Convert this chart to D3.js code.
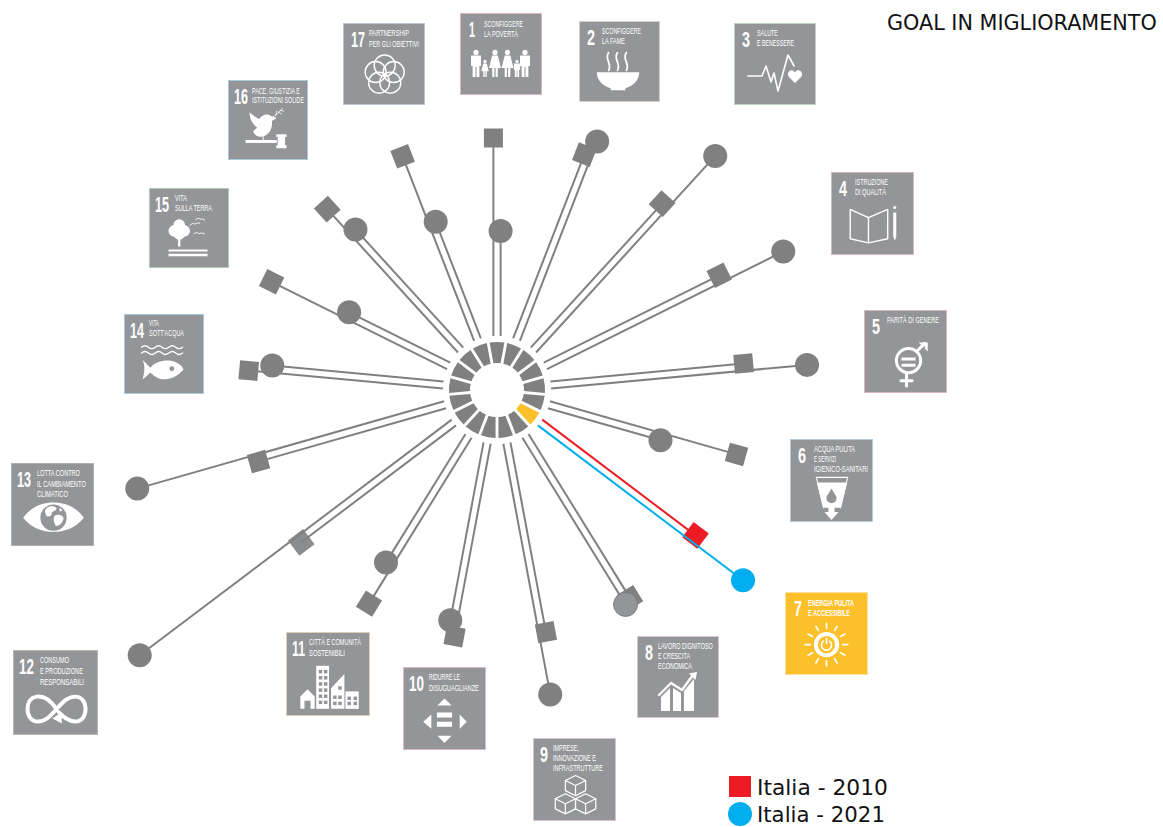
<!DOCTYPE html>
<html><head><meta charset="utf-8">
<script src="https://cdn.jsdelivr.net/npm/d3@7"></script>
<style>html,body{margin:0;background:#fff}svg{display:block}</style></head>
<body><svg id="c" width="1163" height="827"></svg>
<script>
// ---------- data ----------
const goals = [1,2,3,4,5,6,7,8,9,10,11,12,13,14,15,16,17];
const values2010 = [100.8,100.4,99.6,100,99.2,99.2,98.4,98.8,98.8,100,99.6,99.2,99.6,99.6,100,99.2,100.8];
const values2021 = [63.6,107.2,128,127.2,124.4,68.4,124.4,100,123.6,94,82,178,149.2,90.4,66.8,85.6,71.6];
const highlighted = [7];
const goalLabels = [
 ["SCONFIGGERE","LA POVERTÀ"],["SCONFIGGERE","LA FAME"],["SALUTE","E BENESSERE"],["ISTRUZIONE","DI QUALITÀ"],
 ["PARITÀ DI GENERE"],["ACQUA PULITA","E SERVIZI","IGIENICO-SANITARI"],["ENERGIA PULITA","E ACCESSIBILE"],
 ["LAVORO DIGNITOSO","E CRESCITA","ECONOMICA"],["IMPRESE,","INNOVAZIONE E","INFRASTRUTTURE"],
 ["RIDURRE LE","DISUGUAGLIANZE"],["CITTÀ E COMUNITÀ","SOSTENIBILI"],["CONSUMO","E PRODUZIONE","RESPONSABILI"],
 ["LOTTA CONTRO","IL CAMBIAMENTO","CLIMATICO"],["VITA","SOTT'ACQUA"],["VITA","SULLA TERRA"],
 ["PACE, GIUSTIZIA E","ISTITUZIONI SOLIDE"],["PARTNERSHIP","PER GLI OBIETTIVI"]];
const titleText = "GOAL IN MIGLIORAMENTO";
const legendLabels = ["Italia - 2010","Italia - 2021"];

// ---------- layout ----------
const cx = 497, cy = 390;
const GREY = "#808080", TILE = "#939598", ORANGE = "#fcc02b", RED = "#ed1c24", BLUE = "#00aeef";
const tiles = [ // x,y,size, number x,w, label x, label widths, label baselines, edge colour
 {x:460,y:13,s:82,nx:9,nw:6,lx:24,lw:[39,34],ly:[14,24],e:"#d8b8c0"},
 {x:579,y:21,s:81,nx:8,nw:8,lx:23,lw:[39,23],ly:[12.5,23],e:"#d8cfc4"},
 {x:734,y:23,s:82,nx:8,nw:8,lx:23,lw:[21,37],ly:[13,23],e:"#b8d4bc"},
 {x:831,y:172,s:83,nx:8,nw:8,lx:24,lw:[33,31],ly:[13,23],e:"#d8b8c0"},
 {x:864,y:310,s:83,nx:8,nw:8,lx:23,lw:[52],ly:[13],e:"#d8b8b8"},
 {x:790,y:439,s:83,nx:8,nw:8,lx:24,lw:[41,22,54],ly:[13,23,33],e:"#b0ccd4"},
 {x:785,y:592,s:83,nx:9,nw:8,lx:23,lw:[46,42],ly:[14,24],e:"#fde0a0"},
 {x:637,y:636,s:82,nx:8,nw:8,lx:21,lw:[55,32,34],ly:[13,23,33],e:"#d8c4cc"},
 {x:533,y:738,s:83,nx:7,nw:8,lx:20,lw:[26,43,50],ly:[13,23,33],e:"#d8c4cc"},
 {x:403,y:667,s:83,nx:6,nw:15,lx:26,lw:[31,50],ly:[13,24],e:"#dcb8d0"},
 {x:286,y:632,s:84,nx:6,nw:13,lx:23,lw:[52,36],ly:[13,24],e:"#dccfb8"},
 {x:13,y:650,s:85,nx:6,nw:15,lx:27,lw:[29,43,44],ly:[13,24,35],e:"#b8b8b0"},
 {x:11,y:463,s:83,nx:6,nw:14,lx:26,lw:[43,49,31],ly:[13,24,34],e:"#a8b0b0"},
 {x:124,y:314,s:80,nx:6,nw:14,lx:25,lw:[10,35],ly:[11.5,22],e:"#a8c8dc"},
 {x:149,y:188,s:80,nx:6,nw:14,lx:26,lw:[12,37],ly:[13,23],e:"#b0ccb0"},
 {x:228,y:80,s:80,nx:6,nw:14,lx:24,lw:[48,52],ly:[14,23],e:"#a8c8dc"},
 {x:343,y:23,s:82,nx:8,nw:14,lx:26,lw:[40,50],ly:[12.7,23.7],e:"#b8c4d0"}];

const svg = d3.select("#c");
const theta = d3.scaleLinear().domain([1,goals.length+1]).range([0,2*Math.PI]);
const radius = d3.scaleLinear().domain([0,100]).range([0,250]);
const halfStep = Math.PI/goals.length;
const pt = (g,r,off)=>{const t=theta(g);return [cx+r*Math.sin(t)+off*Math.cos(t), cy-r*Math.cos(t)+off*Math.sin(t)];};
const isHi = g => highlighted.includes(g);
const R0 = 54, OFF = 3.6;

// horizontally squeeze a text so that its true box fits a target width
function fitText(parent,str,x,y,w,attrs){
  const t = parent.append("text").text(str);
  Object.entries(attrs).forEach(([k,v])=>t.attr(k,v));
  const len = t.node().getComputedTextLength();
  t.attr("transform",`translate(${x},${y}) scale(${w/len},1)`);
  return t;
}

// ---------- tiles ----------
function P(g,d,o={}){return g.append("path").attr("d",d).attr("fill",o.f||"#fff").attr("stroke",o.s||"none").attr("stroke-width",o.w||0).attr("stroke-linecap",o.c||"butt").attr("stroke-linejoin","round");}
function S(g,d,w){return P(g,d,{f:"none",s:"#fff",w:w,c:"round"});}
function C(g,x,y,r,o={}){return g.append("circle").attr("cx",x).attr("cy",y).attr("r",r).attr("fill",o.f||"#fff").attr("stroke",o.s||"none").attr("stroke-width",o.w||0);}
function man(g,x,y,h){const u=h/27;C(g,x,y+2.4*u,2.6*u);P(g,`M${x-5*u},${y+5.5*u}H${x+5*u}V${y+16*u}H${x+3.4*u}V${y+27*u}H${x+.5*u}V${y+17*u}H${x-.5*u}V${y+27*u}H${x-3.4*u}V${y+16*u}H${x-5*u}Z`);}
function woman(g,x,y,h){const u=h/27;C(g,x,y+2.4*u,2.6*u);P(g,`M${x-2.8*u},${y+5.5*u}H${x+2.8*u}L${x+6*u},${y+18*u}H${x+2.8*u}V${y+27*u}H${x+.6*u}V${y+18*u}H${x-.6*u}V${y+27*u}H${x-2.8*u}V${y+18*u}H${x-6*u}Z`);}

const icons = {
 1(g){man(g,16,37,27);woman(g,25,47,17);woman(g,35,37,27);woman(g,47.5,37,27);man(g,57,47,17);man(g,65,37,27);},
 2(g){[29,38,47].forEach(x=>S(g,`M${x+1},32C${x-4},38 ${x+5},43 ${x+1},50`,1.8));P(g,"M18,52H61C61,62 52,67 47,68V70H32V68C27,67 18,62 18,52Z");},
 3(g){S(g,"M14,53H28L32,43L37,59L40,50L44,68L54,32L60,43",1.6);P(g,"M61,60L55,54C52,50 56,46 59,47.5C60,48 61,49.5 61,49.5C61,49.5 62,48 63,47.5C66,46 70,50 67,54Z");},
 4(g){S(g,"M19,37L37,45L56,37V66L37,70L19,66Z",1.4);S(g,"M37,45V70",1.4);P(g,"M61.5,40H64.5V64L63,68L61.5,64Z");C(g,63,35,1.5);},
 5(g){C(g,44,50,12,{f:"none",s:"#fff",w:3});P(g,"M37,47H51V50H37Z M37,53H51V56H37Z");S(g,"M52,41L60,33",3);P(g,"M54,32H63V41L60,38V35H57Z");S(g,"M42,63V75",3);S(g,"M36.5,70H47.5",3);},
 6(g){S(g,"M26,38H57",1.2);P(g,"M26.5,43H56.5L50,68H44V72H38V68H33Z");P(g,"M34,72H48L41,80Z");P(g,"M41,49C43,53 46,56 46,58.5A5,5 0 0 1 36,58.5C36,56 39,53 41,49Z",{f:TILE});S(g,"M26,38L33,68M57,38L50,68",1);},
 7(g){const x=41,y=52;d3.range(12).forEach(i=>{const a=i*Math.PI/6;S(g,`M${x+16*Math.sin(a)},${y-16*Math.cos(a)}L${x+21*Math.sin(a)},${y-21*Math.cos(a)}`,1.6);});C(g,x,y,12.5);C(g,x,y,8.5,{f:ORANGE});P(g,`M${x-3},${y-3.5}A5,5 0 1 0 ${x+3},${y-3.5}`,{f:"none",s:"#fff",w:1.6,c:"round"});S(g,`M${x},${y-6}V${y-1}`,1.6);},
 8(g){P(g,"M24,61L33,52V75H24Z");P(g,"M36,52L44,57V75H36Z");P(g,"M47,55L57,43V75H47Z");S(g,"M22,59L34,47L45,54L56,39",2.4);P(g,"M52,37.5L60,36L58.5,44Z");},
 9(g){[[42,47],[32,65],[52,65]].forEach(([x,y])=>{S(g,`M${x},${y-10}L${x+10},${y-5}V${y+5}L${x},${y+10}L${x-10},${y+5}V${y-5}Z M${x-10},${y-5}L${x},${y}L${x+10},${y-5}M${x},${y}V${y+10}`,1.2);});},
 10(g){P(g,"M41,31L48,38H34Z M41,75L34,68H48Z M20,54L28,47V61Z M63,54L56,47V61Z M33.5,45H48.5V50H33.5Z M33.5,54H48.5V59H33.5Z");},
 11(g){P(g,"M14,63L21,56L28,63V75H24V67H18V75H14Z");P(g,"M29.5,33H42V75H29.5Z");P(g,"M44,55L57,41V75H44Z");P(g,"M58,58H71V75H58Z");
   [[32,37],[37,37],[32,43],[37,43],[32,49],[37,49],[32,55],[37,55],[32,61],[37,61],[32,67],[37,67],[46,62],[51,62],[46,68],[51,68],[51,53],[60,63],[66,63],[60,68],[66,68]].forEach(([x,y])=>g.append("rect").attr("x",x).attr("y",y).attr("width",3.4).attr("height",3.4).attr("fill",TILE));},
 12(g){S(g,"M42,57C36,48 30,44 23,45C16,46 14,52 14,57C14,63 17,69 24,69C31,69 36,64 42,57C48,50 53,45 60,45C67,45 70,51 70,57C70,63 67,69 60,69C53,69 48,64 44,60",3.8);P(g,"M38,66L47,60L47,71Z");},
 13(g){P(g,"M12,54C20,43 31,39 42,39C53,39 64,43 72,54C64,64 53,68 42,68C31,68 20,64 12,54Z");C(g,42,54,13,{f:TILE});P(g,"M36,44C39,42 44,42 45,45C44,48 41,47 40,50C41,52 37,54 35,52C33,49 33,46 36,44Z M43,52C47,50 52,52 52,55C51,59 47,63 44,62C43,59 41,56 43,52Z M48,44L51,47L48,48Z");},
 14(g){const w=y=>`M18,${y}q3.5,-3 7,0t7,0t7,0t7,0t7,0t7,0`;S(g,w(34),1.4);S(g,w(40),1.4);P(g,"M19,47C22,50 25,53 27,55C33,48 44,46 52,49C57,51 60,54 61,57C57,62 50,67 41,67C35,67 30,63 27,60C25,62 22,65 19,67C21,61 22,54 19,47Z");C(g,49,56,2.5,{f:TILE});},
 15(g){C(g,31,38,6);C(g,26,44,6);C(g,36,44,6);C(g,31,47,6);P(g,"M29.8,50H32.2V60H29.8Z");P(g,"M20,63H60V65H20Z M20,67.5H60V70H20Z");S(g,"M42,38Q45,35 47,37Q50,35 52,36",.9);S(g,"M48,32Q51,30 53,32Q55,31 57,33",.9);S(g,"M46,47Q49,44 51,47Q54,45 57,47",.9);},
 16(g){P(g,"M22,33C26,36 29,39 32,40C35,35 41,34 44,37L50,39L45,42C46,50 42,56 36,58C29,59 26,55 26,52L30,49C25,45 22,39 22,33Z");S(g,"M46,38Q50,36 56,29M49,36L50,32M52,33L55,35M54,31L57,32",.8);S(g,"M36,58V63",1);P(g,"M18,61.5H50V64.5H18Z");P(g,"M49.5,55.5H60V58.5H58.5V67H60V70H49.5V67H51V58.5H49.5Z");},
 17(g){const x=41.7,y=52;d3.range(5).forEach(i=>{const a=i*2*Math.PI/5;C(g,x+9.5*Math.sin(a),y-9.5*Math.cos(a),10.5,{f:"none",s:"#fff",w:1.4});});}
};

const NARROW = "'Liberation Sans Narrow','Liberation Sans',sans-serif";
goals.forEach((n,i)=>{
  const t = tiles[i];
  const g = svg.append("g").attr("class","tile").attr("transform",`translate(${t.x},${t.y})`);
  g.append("rect").attr("x",.5).attr("y",.5).attr("width",t.s-1).attr("height",t.s-1)
    .attr("fill",isHi(n)?ORANGE:TILE).attr("stroke",t.e).attr("stroke-width",1);
  fitText(g,String(n),t.nx,24,t.nw,{"font-family":NARROW,"font-weight":700,"font-size":22,"fill":"#fff"});
  goalLabels[i].forEach((s,j)=>fitText(g,s,t.lx,t.ly[j],t.lw[j],
    {"font-family":NARROW,"font-weight":isHi(n)?700:400,"font-size":8.8,"fill":"#fff"}));
  icons[n](g.append("g").attr("transform",`scale(${t.s/82})`));
});

// ---------- central ring ----------
const arc = d3.arc().innerRadius(27).outerRadius(48).padAngle(0.06).padRadius(48);
svg.append("g").attr("transform",`translate(${cx},${cy})`).selectAll("path").data(goals).join("path")
  .attr("d",g=>arc({startAngle:theta(g)-halfStep,endAngle:theta(g)+halfStep}))
  .attr("fill",g=>isHi(g)?ORANGE:GREY);

// ---------- squares (2010) ----------
const SQ = 19;
svg.append("g").selectAll("rect").data(goals).join("rect")
  .attr("x",-SQ/2).attr("y",-SQ/2).attr("width",SQ).attr("height",SQ)
  .attr("transform",(g,i)=>{const [x,y]=pt(g,radius(values2010[i]),-OFF);return `translate(${x},${y}) rotate(${theta(g)*180/Math.PI})`;})
  .attr("fill",g=>isHi(g)?RED:(g===12?"#8b8c8e":GREY));

// ---------- spokes ----------
const spokes = svg.append("g").attr("fill","none").attr("stroke-width",2);
goals.forEach((g,i)=>{
  const a=pt(g,R0,-OFF),b=pt(g,radius(values2010[i]),-OFF),c=pt(g,R0,OFF),d=pt(g,radius(values2021[i]),OFF);
  spokes.append("path").attr("d",d3.line()([a,b])).attr("stroke",isHi(g)?RED:GREY);
  spokes.append("path").attr("d",d3.line()([c,d])).attr("stroke",isHi(g)?BLUE:GREY);
});

// ---------- circles (2021) ----------
svg.append("g").selectAll("circle").data(goals).join("circle")
  .attr("cx",(g,i)=>pt(g,radius(values2021[i]),OFF)[0])
  .attr("cy",(g,i)=>pt(g,radius(values2021[i]),OFF)[1])
  .attr("r",12)
  .attr("fill",g=>isHi(g)?BLUE:(g===8?TILE:GREY))
  .attr("stroke",g=>g===8?GREY:"none").attr("stroke-width",1);

// ---------- title & legend ----------
const SANS = "'DejaVu Sans',sans-serif";
fitText(svg,titleText,887,30,270,{"font-family":SANS,"font-size":21,"fill":"#111"});
svg.append("rect").attr("x",729).attr("y",776).attr("width",22).attr("height",21).attr("fill",RED);
svg.append("circle").attr("cx",740).attr("cy",814).attr("r",12).attr("fill",BLUE);
[[795,131],[821.5,128]].forEach(([y,w],i)=>fitText(svg,legendLabels[i],757,y,w,{"font-family":SANS,"font-size":22,"fill":"#111"}));
</script></body></html>
